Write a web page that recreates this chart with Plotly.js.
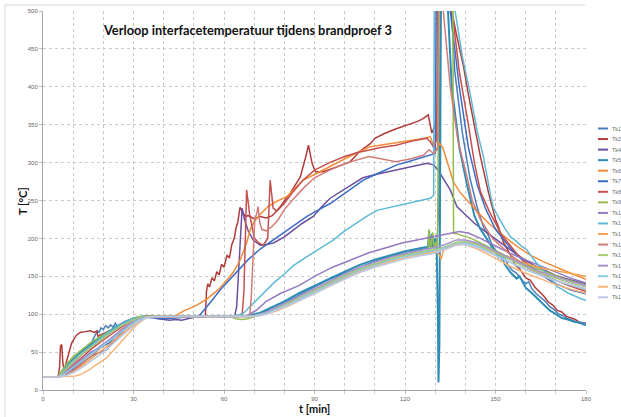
<!DOCTYPE html>
<html><head><meta charset="utf-8">
<script src="https://cdn.plot.ly/plotly-3.0.1.min.js"></script>
<style>html,body{margin:0;padding:0;background:#fff;overflow:hidden}#chart{width:621px;height:417px}</style>
</head><body><div id="chart"></div>
<script>
// ---- data: [time (min), temperature (°C)] ----
const tk1 = [[0,17],[5,17],[7,24],[10,36],[13,48],[16,62],[18,78],[18.6,76],[19.2,82],[20,80],[20.8,85],[21.6,82],[22.4,86],[23.2,83],[24,88],[24.6,84],[25.4,86],[27,90],[30,95],[33,97],[36,97],[45,97],[55,97],[65,97],[68,97],[72,101],[76,107],[80,115],[85,126],[90,136],[95,146],[100,154],[105,163],[110,170],[115,176],[120,181],[125,185],[127.5,187],[128.2,200],[129,188],[129.8,196],[130.5,190],[131.2,240],[132,600],[134,600],[136.5,420],[139,340],[141.5,280],[144,240],[146,215],[147.5,205],[149,190],[150.5,182],[152,172],[153,176],[154,166],[155.5,158],[157,154],[158.5,146],[160,140],[161,143],[162,134],[163.5,127],[165,122],[166.5,117],[168,110],[169.5,106],[171,100],[172.5,98],[174,94],[175.5,92],[177,89],[178.5,87],[180,85]];
const tk2 = [[0,17],[5,17],[5.5,30],[5.8,58],[6.2,60],[6.6,35],[7,26],[8,40],[9.5,62],[11,72],[12.3,76],[14,77],[15.6,78],[17,76],[17.8,78],[18.2,71],[20,74],[23,80],[26,86],[29,92],[32,96],[35,97],[45,97],[53.8,97],[54.2,130],[54.6,140],[55.2,136],[56,148],[56.8,144],[57.6,156],[58.4,152],[59.2,166],[60,162],[61,178],[61.8,174],[62.6,192],[63.4,200],[64,214],[64.6,222],[65.3,241],[66,236],[67,229],[68,230],[70,226],[72,229],[74,227],[76,230],[78.7,242],[82,260],[85.3,281],[87,306],[88,323],[89.2,299],[90.3,288],[93,288],[97.5,295],[101.8,301],[105,315],[108.5,325],[110,332],[113,338],[117.3,345],[121,350],[124,354],[126,358],[127.7,363],[128.9,339],[129.5,345],[130.6,352],[131,600],[134,600],[135.5,500],[137,470],[139.4,427],[141,390],[142.8,352],[145,308],[147.7,260],[149,238],[150,225],[151,215],[152.5,196],[154,185],[155,178],[156.5,165],[158,160],[160,148],[161.5,145],[163,136],[164.5,130],[166,124],[167.5,116],[169,112],[170.5,105],[172,103],[173.5,97],[175,95],[176.5,93],[178,89],[180,88]];
const tk4 = [[0,17],[5,17],[7,20],[10,28],[13,36],[16.6,46],[21,53],[24,66],[27.8,84],[30,92],[33,96],[36,97],[38,94],[40,93],[42,92],[44,93],[46,92],[48,94],[50,96],[55,97],[63.5,97],[64.2,110],[64.8,160],[65.4,210],[66,240],[66.8,225],[68,210],[69.7,198],[72,191],[74,192],[76.4,194],[80,202],[83,211],[86,220],[89.6,229],[92,240],[95.2,253],[100,265],[106,280],[111,285],[117,290],[122,295],[127.3,299],[129.5,297],[131,290],[133,277],[135,264],[137.2,242],[140.5,229],[143,220],[146,211],[149,202],[151.6,194],[155,184],[158,176],[162.5,165],[166,158],[170,151],[175,145],[180,140]];
const tk5 = [[0,17],[5,17],[6.5,25],[9,37],[12,48],[15,58],[18,67],[21,75],[24,83],[27,89],[30,94],[33,97],[36,97],[45,97],[55,97],[65,97],[68,98],[72,102],[76,109],[80,117],[85,128],[90,138],[95,147],[100,156],[105,165],[110,172],[115,178],[120,183],[125,187],[127.6,189],[128,210],[128.4,188],[129,206],[129.4,190],[130,200],[130.5,188],[130.9,100],[131.1,10],[131.4,60],[131.6,190],[132,600],[133,600],[135.5,400],[138,320],[140.6,270],[143,230],[145,212],[147,200],[149,187],[151,175],[152,179],[153,166],[155,155],[157,147],[158,150],[160,135],[162,128],[164,120],[166,113],[168,105],[170,100],[172,95],[174,93],[176,90],[178,89],[180,87]];
const tk6 = [[0,17],[5,17],[8,20],[11,28],[14,38],[17,48],[20,58],[23,69],[26,80],[29,89],[32,95],[35,97],[40,97],[44,98],[46.5,104],[49,108],[51,112],[54.3,120],[58,132],[61,145],[63,155],[65.3,171],[67.5,194],[68.7,212],[70,222],[72,232],[74.6,242],[77,248],[80.8,255],[84,268],[86.3,277],[90.8,286],[95.2,295],[100,305],[104,313],[108.5,321],[112,323],[117.3,326],[121,328],[125,331],[128.4,334],[129.5,322],[130.5,318],[131.5,325],[132.5,320],[134,300],[136,275],[138,262],[140.5,251],[144,235],[148,219],[151.6,207],[155,196],[158,187],[162,177],[166,169],[170,162],[175,154],[180,146]];
const tk7 = [[0,17],[5,17],[7,21],[10,30],[13,40],[16,50],[19,56],[22,62],[25,75],[28,86],[31,93],[34,96],[37,95],[40,94],[44,95],[48,96],[50,97],[52,99],[54,108],[56,118],[58.7,132],[62,146],[65.3,161],[68,172],[72,186],[76.4,198],[80,208],[84,219],[87.5,229],[91,237],[95.2,246],[98.5,255],[102,265],[106.2,277],[110,284],[114,291],[117.3,297],[121,301],[125,306],[128.4,310],[130,312],[130.5,600],[134,600],[135,500],[138,400],[141,320],[144,270],[146.6,240],[150,212],[155,187],[160,167],[165,152],[170,140],[175,132],[180,127]];
const tk8 = [[0,17],[5,17],[7,22],[10,33],[13,44],[16,54],[19,63],[22,72],[25,81],[28,89],[31,95],[34,97],[40,97],[50,97],[60,97],[66,98],[66.6,130],[67,200],[67.5,264],[68.5,232],[70,201],[71.5,194],[73,191],[74.5,200],[75.3,277],[76.3,240],[77.5,236],[80,246],[83,262],[86,276],[90,290],[95,300],[100,308],[104,313],[108,317],[112,320],[117,323],[122,328],[127.3,332],[128.5,327],[129.5,320],[130.5,330],[131.5,600],[135,600],[135.6,500],[138,420],[141,350],[143,300],[145,262],[148,235],[152,205],[157,180],[162,162],[168,148],[174,138],[180,130]];
const tk9 = [[0,17],[5,17],[5.6,22],[8,35],[10,44],[13,54],[15.6,62],[18,68],[21,75],[24,82],[26.6,88],[29,93],[32,97],[35,97.5],[45,97],[55,97],[62,97],[64,94],[66,93],[68,94],[70,97],[73,100],[76,104],[80,111],[85,121],[90,131],[95,141],[100,150],[105,159],[110,166],[115,173],[120,178],[125,182],[127.5,183],[128,212],[128.4,184],[129.2,208],[129.6,186],[130.2,196],[130.8,186],[131.4,600],[135.8,600],[136.1,207],[138,205],[142,200],[147,190],[153,178],[160,166],[168,154],[174,145],[180,138]];
const tk10 = [[0,17],[5,17],[6.5,23],[9,33],[12,44],[15,54],[18,63],[21,72],[24,80],[27,87],[30,93],[33,96.5],[36,97],[45,97],[55,97],[65,97],[68,99],[71,106],[74,117],[79,128],[85,138],[90,150],[96,162],[102,172],[108,181],[114,188],[119,194],[124,198],[128,201],[131,203],[134,206],[138,209],[141,207],[145,200],[150,190],[155,180],[161,170],[167,160],[172,152],[176,146],[180,141]];
const tk11 = [[0,17],[5,17],[6.5,24],[9,35],[12,46],[15,56],[18,65],[21,74],[24,82],[27,89],[30,94],[33,97],[40,97],[50,97],[60,97],[64,98],[66.4,101],[70,115],[73,128],[76.4,141],[80,153],[83,164],[87.5,176],[92,187],[96.3,198],[100,210],[104,221],[107.3,229],[110.7,237],[114,240],[118.4,244],[122,247],[125,250],[128.4,253],[129.5,257],[129.8,600],[136,600],[136.6,500],[139,440],[141.6,391],[144,340],[146,308],[148.3,258],[149.3,240],[151,228],[153,214],[155,202],[157,196],[158.5,190],[160.4,185],[162,176],[163.5,168],[164.8,163],[166,158],[167.5,150],[169,144],[170.4,136],[172,133],[174,128],[176,124],[178,121],[180,118]];
const tk12 = [[0,17],[5,17],[7,19],[10,24],[13,32],[16,41],[19,50],[22,60],[25,70],[28,80],[31,89],[34,95],[36,97],[45,97],[55,97],[65,97],[70,98],[74,101],[78,107],[82,114],[85,121],[90,130],[95,140],[100,148],[105,157],[110,165],[115,171],[120,176],[125,180],[128.4,182],[130,184],[131.5,178],[132,172],[132.6,183],[134,188],[137,193],[140,194],[144,190],[148,184],[152,178],[156,172],[160,167],[165,161],[170,157],[175,153],[180,150]];
const tk13 = [[0,17],[5,17],[7,19],[10,26],[13,35],[16,45],[19,55],[22,65],[25,76],[28,86],[31,93],[34,97],[40,97],[50,97],[60,97],[68.5,97],[69,120],[69.6,180],[70.2,225],[70.8,232],[71.3,242],[71.8,222],[72.5,212],[74,210],[76,216],[78,225],[80,238],[83,252],[86,265],[90,280],[95,290],[101,300],[105,305],[108,308],[112,305],[117,301],[122,305],[126.2,310],[128,317],[129.5,312],[130.8,318],[131.2,600],[132,600],[132.7,500],[135,400],[137.5,330],[140.6,280],[142.3,250],[145,225],[149,200],[155,178],[161,160],[167,148],[174,139],[180,132]];
const tk14 = [[0,17],[5,17],[6,21],[8.5,31],[11,41],[14,51],[17,60],[20,69],[23,77],[26,85],[29,91],[32,96],[35,97],[45,97],[55,97],[65,97],[70,98],[74,102],[78,109],[82,116],[86,124],[90,132],[95,142],[100,151],[105,160],[110,167],[115,173],[120,178],[125,182],[128.4,184],[131,186],[134,190],[137,195],[140,196],[144,192],[148,185],[152,177],[156,169],[160,162],[165,154],[170,147],[175,141],[180,136]];
const tk15 = [[0,17],[5,17],[7,22],[10,31],[13,40],[16,49],[19,58],[22,67],[25,76],[28,85],[31,92],[34,96],[37,97],[45,97],[55,97],[65,97],[70,98],[74,103],[78,110],[82,118],[86,126],[90,134],[95,144],[100,153],[105,162],[110,169],[115,175],[120,180],[125,184],[128.4,186],[131,189],[134,193],[137,198],[140,198],[144,194],[148,187],[152,179],[156,171],[160,164],[165,156],[170,149],[175,143],[180,138]];
const tk16 = [[0,17],[5,17],[7,21],[10,29],[13,38],[16,47],[19,56],[22,65],[25,74],[28,83],[31,91],[34,96],[37,97],[45,97],[55,97],[65,97],[70,98],[74,101],[78,107],[82,114],[86,122],[90,130],[95,140],[100,149],[105,158],[110,165],[115,171],[120,176],[125,180],[128.4,182],[131,185],[134,189],[137,193],[140,194],[144,190],[148,182],[152,174],[156,166],[160,159],[165,151],[170,144],[175,138],[180,133]];
const tk17 = [[0,17],[5,17],[8,17],[10,18],[12.3,20],[15,26],[18,34],[21,42],[24,55],[26.6,66],[28,73],[30,82],[32,89],[34.4,96],[37,97],[45,97],[55,97],[65,97],[70,97],[74,100],[78,105],[82,112],[86,120],[90,128],[95,138],[100,147],[105,156],[110,163],[115,169],[120,174],[125,178],[128.4,180],[131,183],[134,187],[137,192],[140,192],[144,186],[148,178],[152,169],[156,161],[160,154],[165,146],[170,139],[175,133],[180,128]];
const tk18 = [[0,17],[5,17],[7.5,19],[10,23],[13,30],[16,38],[19,47],[22,57],[25,67],[28,78],[31,88],[34,95],[37,97],[45,97],[55,97],[65,97],[70,97],[74,100],[78,106],[82,113],[86,120],[90,127],[95,137],[100,146],[105,155],[110,162],[115,168],[120,173],[125,177],[128.4,179],[131,182],[134,186],[137,191],[140,192],[144,188],[148,181],[152,173],[156,166],[160,159],[165,151],[170,144],[175,139],[180,134]];

const seriesNames = ['Tk1','Tk2','Tk4','Tk5','Tk6','Tk7','Tk8','Tk9','Tk10','Tk11','Tk12','Tk13','Tk14','Tk15','Tk16','Tk17','Tk18'];
// legend labels as they appear (truncated at the right edge) in the reference
const legendLabels = ['Tk1','Tk2','Tk4','Tk5','Tk6','Tk7','Tk8','Tk9','Tk1','Tk1','Tk1','Tk1','Tk1','Tk1','Tk1','Tk1','Tk1'];
const seriesData  = [tk1,tk2,tk4,tk5,tk6,tk7,tk8,tk9,tk10,tk11,tk12,tk13,tk14,tk15,tk16,tk17,tk18];
const seriesColors = ['#4A7EBB','#B03C3A','#6B509F','#2F8DB5','#F28C38','#3D6CC6','#C4504D','#94BC52','#9479C2','#5DB9D6','#F7A050','#D27C79','#A8CA74','#A894CD','#88CCE1','#F9B47A','#B8C8E6'];
const xTicks = [0,30,60,90,120,150,180];
const titleText = 'Verloop interfacetemperatuur tijdens brandproef 3';
const xTitle = 't [min]';
const yTitle = 'T [°C]';

// ---- layout helpers (pixel -> paper) ----
const W = 621, H = 417, L = 43, R = 35, T = 11, B = 27;
const pw = W - L - R, ph = H - T - B;
const px = x => (x - L) / pw;
const py = y => (H - B - y) / ph;

const traces = seriesData.map((d, i) => ({
  type: 'scatter', mode: 'lines', name: seriesNames[i],
  x: d.map(p => p[0]), y: d.map(p => p[1]),
  line: {color: seriesColors[i], width: i === 3 ? 2 : 1.5},
  hoverinfo: 'skip', showlegend: false
}));

const shapes = [
  {type:'line', xref:'paper', yref:'paper', x0:px(5), x1:px(5), y0:py(5), y1:py(417), line:{color:'#d4d4d4', width:1}},
  {type:'line', xref:'paper', yref:'paper', x0:px(5), x1:px(585), y0:py(5), y1:py(5), line:{color:'#d4d4d4', width:1}}
];
const annotations = [
  {xref:'paper', yref:'paper', x:px(22), y:py(201), text:yTitle, textangle:-90, showarrow:false, xanchor:'center', yanchor:'middle',
   font:{family:'Lato', size:11, color:'#111', weight:'bold'}},
  {xref:'paper', yref:'paper', x:px(314), y:py(408.5), text:xTitle, showarrow:false, xanchor:'center', yanchor:'middle',
   font:{family:'Lato', size:11, color:'#111', weight:'bold'}}
];
legendLabels.forEach((n, i) => {
  const yy = 128.5 + i * 10.55;
  shapes.push({type:'line', xref:'paper', yref:'paper', x0:px(598), x1:px(608), y0:py(yy), y1:py(yy), line:{color:seriesColors[i], width:2}});
  annotations.push({xref:'paper', yref:'paper', x:px(610), y:py(yy), xanchor:'left', yanchor:'middle', text:n, showarrow:false, font:{family:'Liberation Sans', size:5.5, color:'#6a6a6a'}});
});

const layout = {
  width: W, height: H,
  margin: {l:L, r:R, t:T, b:B, pad:0},
  paper_bgcolor:'#fff', plot_bgcolor:'#fff',
  title: {text: titleText, xref:'container', yref:'container', x: 104/W, xanchor:'left', y: 1 - 30.5/H, yanchor:'middle',
          font:{family:'Lato', size:12.8, color:'#111', weight:'bold'}},
  xaxis: {range:[0,180], tickmode:'array', tickvals:xTicks, showgrid:true, zeroline:false,
    gridcolor:'#c9c9c9', griddash:'dot', gridwidth:1,
    showline:true, linecolor:'#a6a6a6', linewidth:1, ticks:'outside', ticklen:3, tickcolor:'#bcbcbc',
    tickfont:{family:'Liberation Sans', size:6, color:'#666'},
    minor:{dtick:10, tick0:0, showgrid:true, gridcolor:'#c9c9c9', griddash:'dot', ticks:'outside', ticklen:3, tickcolor:'#d0d0d0'}},
  yaxis: {range:[0,500], dtick:50, tick0:0, showgrid:true, zeroline:false,
    gridcolor:'#c9c9c9', griddash:'dot', gridwidth:1,
    showline:true, linecolor:'#a6a6a6', linewidth:1, ticks:'outside', ticklen:3, tickcolor:'#bcbcbc',
    tickfont:{family:'Liberation Sans', size:6, color:'#666'}},
  shapes: shapes,
  annotations: annotations
};
Plotly.newPlot('chart', traces, layout, {displayModeBar:false, staticPlot:true});
</script></body></html>
